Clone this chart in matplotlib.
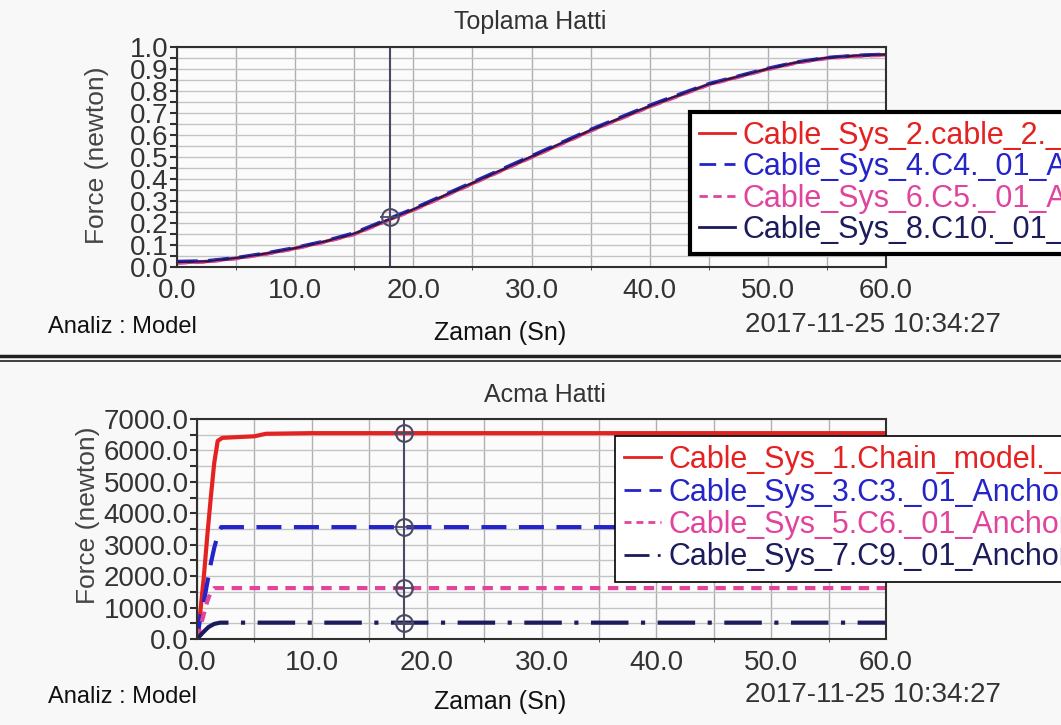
import numpy as np
import matplotlib
matplotlib.use("Agg")
from matplotlib import pyplot as plt
from matplotlib.lines import Line2D

plt.rcParams['font.family'] = ['Liberation Sans', 'DejaVu Sans']

# top chart: Toplama Hatti
top_t = [0, 2.5, 5, 7.5, 10, 12.5, 15, 17.5, 20, 22.5, 25, 27.5, 30,
         32.5, 35, 37.5, 40, 42.5, 45, 47.5, 50, 52.5, 55, 57.5, 60]
top_sys2 = [0.020, 0.025, 0.040, 0.060, 0.085, 0.115, 0.150, 0.205, 0.260, 0.320, 0.380, 0.440, 0.500,
            0.560, 0.620, 0.675, 0.730, 0.780, 0.830, 0.865, 0.900, 0.930, 0.950, 0.960, 0.965]
top_sys4 = [0.025, 0.028, 0.042, 0.063, 0.088, 0.118, 0.155, 0.210, 0.265, 0.325, 0.385, 0.445, 0.505,
            0.565, 0.625, 0.680, 0.735, 0.785, 0.833, 0.868, 0.903, 0.932, 0.952, 0.962, 0.967]
top_sys6 = [0.018, 0.023, 0.038, 0.058, 0.083, 0.113, 0.148, 0.203, 0.258, 0.318, 0.378, 0.438, 0.498,
            0.558, 0.618, 0.673, 0.728, 0.778, 0.828, 0.863, 0.898, 0.928, 0.948, 0.958, 0.963]
top_sys8 = [0.022, 0.026, 0.041, 0.061, 0.086, 0.116, 0.152, 0.207, 0.262, 0.322, 0.382, 0.442, 0.502,
            0.562, 0.622, 0.677, 0.732, 0.782, 0.831, 0.866, 0.901, 0.931, 0.951, 0.961, 0.966]
top_labels = ["Cable_Sys_2.cable_2._01_Anchor_Tension",
              "Cable_Sys_4.C4._01_Anchor_Tension",
              "Cable_Sys_6.C5._01_Anchor_Tension",
              "Cable_Sys_8.C10._01_Anchor_Tension"]

# bottom chart: Acma Hatti
bot_t1 = [0, 0.3, 0.6, 0.9, 1.2, 1.5, 1.8, 2.2, 5, 6, 10, 20, 30, 40, 50, 60]
bot_sys1 = [0, 900, 2000, 3300, 4500, 5600, 6300, 6400, 6450, 6530, 6550, 6550, 6550, 6550, 6550, 6550]
bot_t3 = [0, 0.3, 0.6, 0.9, 1.2, 1.5, 1.8, 2.1, 10, 30, 60]
bot_sys3 = [0, 700, 1200, 1800, 2400, 2900, 3300, 3560, 3560, 3560, 3560]
bot_t5 = [0, 0.3, 0.6, 0.9, 1.2, 1.5, 10, 30, 60]
bot_sys5 = [0, 400, 800, 1200, 1500, 1620, 1620, 1620, 1620]
bot_t7 = [0, 0.5, 1.0, 1.5, 2.0, 10, 30, 60]
bot_sys7 = [0, 200, 380, 480, 520, 520, 520, 520]
bot_labels = ["Cable_Sys_1.Chain_model._01_Anchor_Tension",
              "Cable_Sys_3.C3._01_Anchor_Tension",
              "Cable_Sys_5.C6._01_Anchor_Tension",
              "Cable_Sys_7.C9._01_Anchor_Tension"]

cursor_t = 18
top_cursor = [0.225]
bot_cursor = [6550, 3560, 1620, 520]

RED = '#e42222'
BLUE = '#2424c8'
PINK = '#e0449c'
NAVY = '#1c1c5c'
CUR = '#4a4a66'

W, H = 1061, 725
fig = plt.figure(figsize=(W / 100, H / 100), dpi=100)
fig.patch.set_facecolor('#f8f8f8')

def style_axes(ax):
  ax.set_facecolor('#fbfbfb')
  for s in ax.spines.values():
    s.set_linewidth(1.5)
    s.set_color('#303030')
  ax.tick_params(axis='both', which='both', labelsize=20, colors='#303030',
                 labelcolor='#333333', pad=1)
  ax.tick_params(axis='x', length=0, pad=8)
  ax.tick_params(axis='y', which='both', direction='out', length=5, width=1.5)
  ax.set_xlim(0, 60)
  ax.set_xticks(np.arange(0, 61, 10))
  ax.set_xticklabels([f"{v:.1f}" for v in np.arange(0, 61, 10)])
  ax.set_xticks(np.arange(0, 61, 5), minor=True)
  ax.grid(True, axis='x', which='both', color='#b0b0b0', lw=1)

# top axes
ax1 = fig.add_axes([177 / W, 1 - 267 / H, 709 / W, 220 / H])
style_axes(ax1)
ax1.set_ylim(0, 1.0)
ax1.set_yticks(np.arange(0, 1.01, 0.1))
ax1.set_yticklabels([f"{v:.1f}" for v in np.arange(0, 1.01, 0.1)])
ax1.set_yticks(np.arange(0, 1.0, 0.05), minor=True)
ax1.grid(True, axis='y', which='both', color='#c4c4c4', lw=1)
ax1.set_axisbelow(True)
ax1.plot(top_t, top_sys2, color=RED, lw=2.5, label=top_labels[0])
ax1.plot(top_t, top_sys4, color=BLUE, lw=2.5, ls=(0, (6, 3)), label=top_labels[1])
ax1.plot(top_t, top_sys6, color=PINK, lw=2.5, ls=(0, (3, 2)), label=top_labels[2])
ax1.plot(top_t, top_sys8, color=NAVY, lw=1.5, label=top_labels[3])
ax1.axvline(cursor_t, color=CUR, lw=1.5)
ax1.plot([cursor_t], top_cursor, 'o', ms=12, mfc='none', mec=CUR, mew=1.5)
ax1.plot([cursor_t], top_cursor, '+', ms=14, mec=CUR, mew=1.3)

# bottom axes
ax2 = fig.add_axes([197 / W, 1 - 639 / H, 689 / W, 220 / H])
style_axes(ax2)
ax2.set_ylim(0, 7000)
ax2.set_yticks(np.arange(0, 7001, 1000))
ax2.set_yticklabels([f"{v:.1f}" for v in np.arange(0, 7001, 1000)])
ax2.set_yticks(np.arange(0, 7000, 500), minor=True)
ax2.grid(True, axis='y', which='both', color='#c4c4c4', lw=1)
ax2.set_axisbelow(True)
ax2.plot(bot_t1, bot_sys1, color=RED, lw=3, label=bot_labels[0])
ax2.plot(bot_t3, bot_sys3, color=BLUE, lw=3, ls=(0, (6, 3)), label=bot_labels[1])
ax2.plot(bot_t5, bot_sys5, color=PINK, lw=3, ls=(0, (2.5, 1.8)), label=bot_labels[2])
ax2.plot(bot_t7, bot_sys7, color=NAVY, lw=3, ls=(0, (9, 3, 1, 3)), label=bot_labels[3])
ax2.axvline(cursor_t, color=CUR, lw=1.5)
ax2.plot([cursor_t] * len(bot_cursor), bot_cursor, 'o', ms=12, mfc='none', mec=CUR, mew=1.5)
ax2.plot([cursor_t] * len(bot_cursor), bot_cursor, '+', ms=14, mec=CUR, mew=1.3)

# legends (cut off by the right edge like the original)
def make_legend(ax, x, y, lw, fs, spacing, pad):
  h, l = ax.get_legend_handles_labels()
  leg = fig.legend(h, l, loc='upper left', bbox_to_anchor=(x / W, 1 - y / H),
                   fontsize=fs, frameon=True, fancybox=False, borderaxespad=0,
                   borderpad=pad, labelspacing=spacing, handlelength=1.2,
                   handletextpad=0.25, framealpha=1)
  leg.get_frame().set_edgecolor('black')
  leg.get_frame().set_linewidth(lw)
  leg.get_frame().set_facecolor('white')
  for txt, line in zip(leg.get_texts(), leg.get_lines()):
    txt.set_color(line.get_color())
    line.set_linewidth(2)
  return leg

make_legend(ax1, 690, 112, 3, 22, 0.05, 0.28)
make_legend(ax2, 615, 436, 1.2, 22, 0.08, 0.3)

# titles and footer texts
fig.text(530 / W, 1 - 22 / H, "Toplama Hatti", ha='center', va='center', fontsize=18, color='#333333')
fig.text(545 / W, 1 - 395 / H, "Acma Hatti", ha='center', va='center', fontsize=18, color='#333333')
fig.text(97 / W, 1 - 155 / H, "Force (newton)", rotation=90, ha='center', va='center', fontsize=19, color='#444444')
fig.text(88 / W, 1 - 515 / H, "Force (newton)", rotation=90, ha='center', va='center', fontsize=19, color='#444444')
for y_a, y_z in [(327, 333), (697, 702)]:
  fig.text(48 / W, 1 - y_a / H, "Analiz : Model", ha='left', va='center', fontsize=17, color='#111111')
  fig.text(500 / W, 1 - y_z / H, "Zaman (Sn)", ha='center', va='center', fontsize=18, color='#111111')
  fig.text(745 / W, 1 - (y_a - 2) / H, "2017-11-25 10:34:27", ha='left', va='center', fontsize=20, color='#333333')

# double separator line
fig.add_artist(Line2D([0, 1], [1 - 356 / H, 1 - 356 / H], color='#202020', lw=2.5))
fig.add_artist(Line2D([0, 1], [1 - 361 / H, 1 - 361 / H], color='#202020', lw=1.2))

fig.savefig("out.png", dpi=100, facecolor=fig.get_facecolor())
